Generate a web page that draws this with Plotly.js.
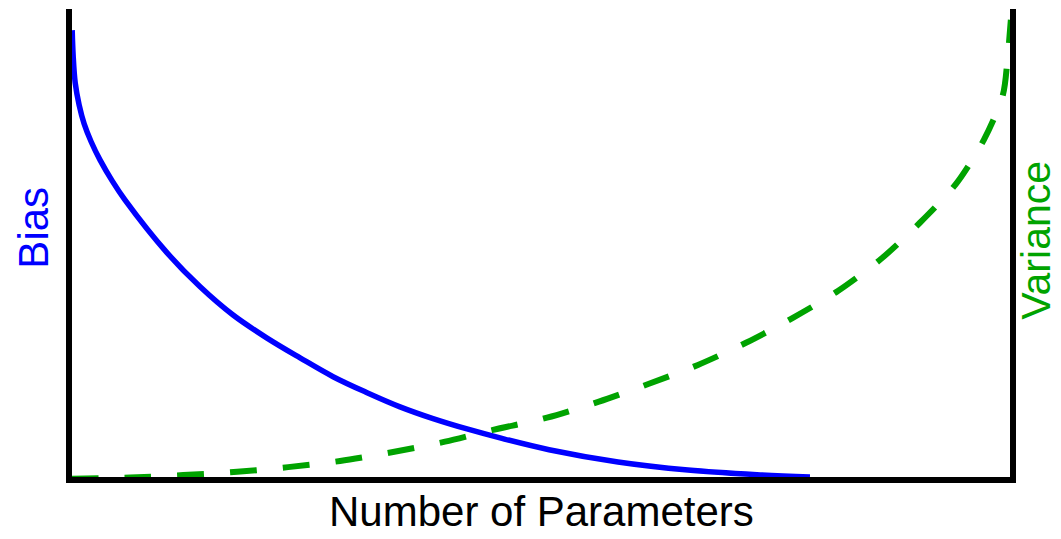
<!DOCTYPE html>
<html>
<head>
<meta charset="utf-8">
<script src="https://cdn.plot.ly/plotly-3.0.1.min.js"></script>
<style>html,body{margin:0;padding:0;background:#fff;}#chart{width:1061px;height:539px;}</style>
</head>
<body>
<div id="chart"></div>
<script>
// Bias curve (left axis)
const biasX = [0.32, 0.42, 0.64, 1.06, 1.59, 2.33, 3.28, 4.56, 5.93, 10.38, 13.88, 17.37, 20.97, 24.47, 27.97, 31.57, 35.06, 38.56, 42.16, 45.66, 50.85, 58.16, 65.57, 72.88, 78.50];
const biasY = [95.5, 90.2, 84.3, 79.6, 75.6, 71.8, 67.9, 63.5, 59.4, 48.2, 41.0, 35.0, 30.1, 25.9, 21.9, 18.5, 15.5, 13.0, 10.8, 8.9, 6.4, 3.8, 2.1, 1.1, 0.6];

// Variance curve (right axis)
const varX = [0.21, 6.46, 12.08, 17.80, 23.20, 28.71, 34.32, 39.83, 44.92, 50.64, 56.14, 61.44, 66.63, 71.72, 76.69, 81.46, 86.02, 90.15, 93.96, 96.93, 98.94, 99.47, 99.79];
const varY = [0.2, 0.5, 1.0, 1.7, 2.7, 4.0, 5.9, 8.1, 10.6, 13.2, 16.6, 20.4, 24.4, 29.1, 34.4, 40.1, 46.9, 54.6, 62.8, 72.2, 81.7, 90.2, 97.7];

const xTitle = "Number of Parameters";
const biasTitle = "Bias";
const varTitle = "Variance";

const BLUE = "#0000ff";
const GREEN = "rgb(0,163,0)";
const FONT = "Liberation Sans, Arial, Helvetica, sans-serif";

const traces = [
  {x: varX, y: varY, type: "scatter", mode: "lines", yaxis: "y2", name: varTitle,
   line: {color: GREEN, width: 6, dash: "27px,26px", shape: "spline", smoothing: 0.8},
   hoverinfo: "skip"},
  {x: biasX, y: biasY, type: "scatter", mode: "lines", name: biasTitle,
   line: {color: BLUE, width: 5.5, shape: "spline", smoothing: 1},
   hoverinfo: "skip"}
];

const layout = {
  width: 1061, height: 539,
  margin: {l: 72, r: 51, t: 9, b: 62, pad: 0},
  paper_bgcolor: "#fff", plot_bgcolor: "#fff",
  showlegend: false,
  font: {family: FONT},
  xaxis: {range: [0.3, 99.7], showline: true, linewidth: 6, linecolor: "#000",
    showgrid: false, zeroline: false, ticks: "", showticklabels: false},
  yaxis: {range: [0.6, 100], showline: true, linewidth: 6, linecolor: "#000",
    showgrid: false, zeroline: false, ticks: "", showticklabels: false},
  yaxis2: {range: [0.6, 100], overlaying: "y", side: "right", showline: true, linewidth: 6, linecolor: "#000",
    showgrid: false, zeroline: false, ticks: "", showticklabels: false},
  annotations: [
    {text: xTitle, xref: "paper", yref: "paper", x: 0.5, y: -0.0192,
     xanchor: "center", yanchor: "top", showarrow: false,
     font: {size: 42, color: "#000", family: FONT}},
    {text: biasTitle, xref: "paper", yref: "paper", x: -0.0415, y: 0.533,
     xanchor: "center", yanchor: "middle", textangle: -90, showarrow: false,
     font: {size: 42, color: BLUE, family: FONT}},
    {text: varTitle, xref: "paper", yref: "paper", x: 1.0283, y: 0.506,
     xanchor: "center", yanchor: "middle", textangle: -90, showarrow: false,
     font: {size: 41, color: GREEN, family: FONT}}
  ]
};

Plotly.newPlot("chart", traces, layout, {staticPlot: true, displayModeBar: false});
</script>
</body>
</html>
